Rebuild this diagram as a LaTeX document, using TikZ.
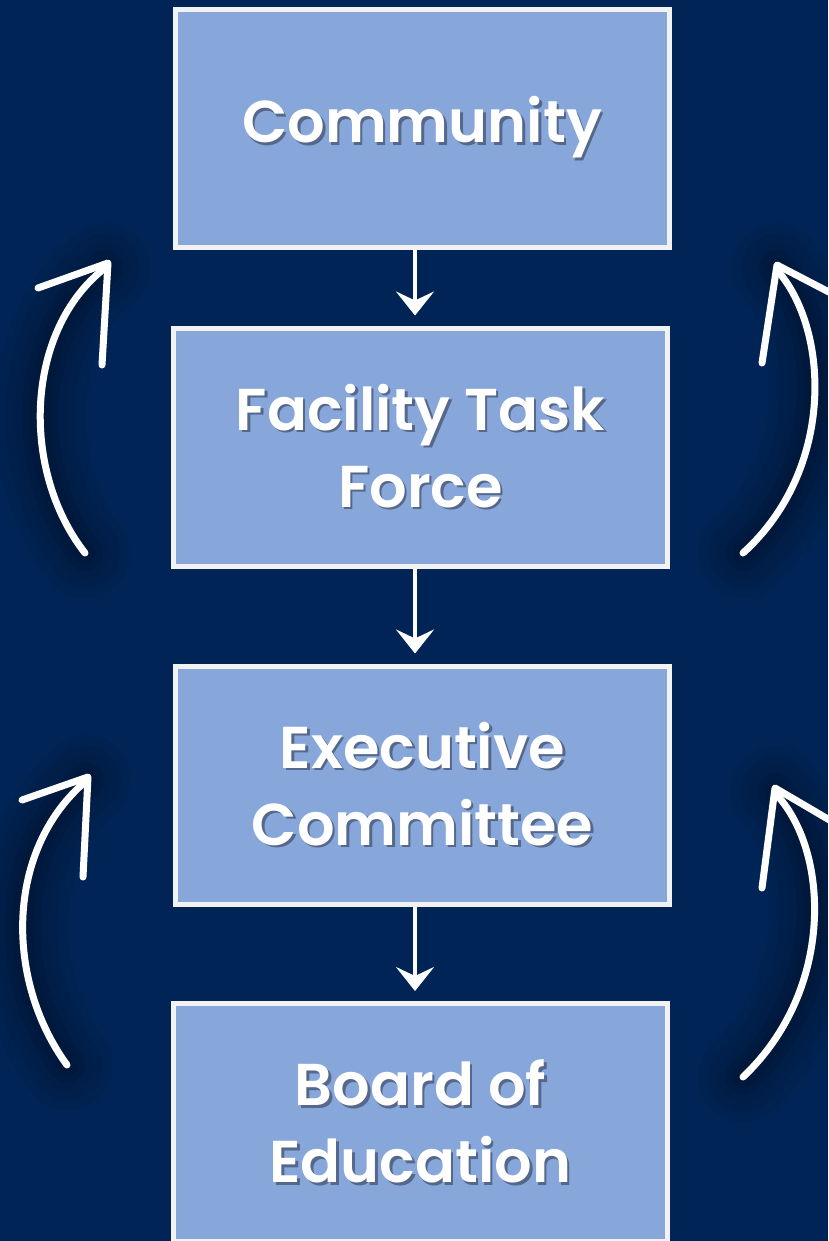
\documentclass[tikz,border=0pt]{standalone}
\usepackage{fontspec}
\setmainfont{Poppins}[BoldFont={* SemiBold}]
\usetikzlibrary{arrows.meta}
\definecolor{bgnavy}{HTML}{012456}
\definecolor{boxfill}{HTML}{87A6DA}
\definecolor{boxline}{HTML}{F2F2F2}
\definecolor{shadowc}{HTML}{55678A}
\newcommand\shtext[1]{\leavevmode\rlap{\kern2.5pt\raisebox{-2.5pt}{\textcolor{shadowc}{#1}}}#1}
\tikzset{
  stagebox/.style={draw=boxline, line width=5pt, fill=boxfill, minimum width=494pt, minimum height=238pt,
    inner sep=0pt, align=center, text=white, font=\fontsize{59}{77}\selectfont\bfseries},
  flowarrow/.style={draw=white, line width=3.5pt, -{Stealth[length=24pt,width=38pt,inset=9pt]}, shorten >=10pt},
  loopline/.style={draw=white, line width=7pt, line cap=round, line join=round},
  halo/.style={draw=black, line cap=round, opacity=#1},
}
\begin{document}
\begin{tikzpicture}[x=1pt,y=-1pt]
\fill[bgnavy] (0,0) rectangle (828,1241);
\useasboundingbox (0,0) rectangle (828,1241);
\clip (0,0) rectangle (828,1241);

% curved return arrows: soft dark halos
\foreach \w/\o in {90/0.05,70/0.05,52/0.06,36/0.07,22/0.08}{
  \draw[halo=\o, line width=\w pt] (85,553) .. controls (20,470) and (25,330) .. (105,268);
  \draw[halo=\o, line width=\w pt] (743,553) .. controls (835,470) and (830,330) .. (777,268);
  \draw[halo=\o, line width=\w pt] (67,1065) .. controls (5,980) and (5,850) .. (86,780);
  \draw[halo=\o, line width=\w pt] (743,1077) .. controls (835,990) and (830,850) .. (775,791);
}

% curved return arrows
\coordinate (la1s) at (85,553);
\coordinate (la1t) at (108,263);
\draw[loopline] (la1s) .. controls (20,470) and (25,330) .. (105,268);
\draw[loopline] (38,288) -- (la1t) -- (102,365);

\coordinate (ra1s) at (743,553);
\coordinate (ra1t) at (777,265);
\draw[loopline] (ra1s) .. controls (835,470) and (830,330) .. (777,270);
\draw[loopline] (850,303) -- (ra1t) -- (762,363);

\coordinate (la2s) at (67,1065);
\coordinate (la2t) at (88,777);
\draw[loopline] (la2s) .. controls (5,980) and (5,850) .. (86,781);
\draw[loopline] (22,800) -- (la2t) -- (83,877);

\coordinate (ra2s) at (743,1077);
\coordinate (ra2t) at (775,788);
\draw[loopline] (ra2s) .. controls (835,990) and (830,850) .. (775,793);
\draw[loopline] (850,832) -- (ra2t) -- (762,888);

% boxes
\node[stagebox] (community) at (422,128.5) {\raisebox{6pt}{\shtext{Community}}};
\node[stagebox] (taskforce) at (420.5,447) {\shtext{Facility Task}\\\shtext{Force}};
\node[stagebox] (executive) at (422.5,785) {\shtext{Executive}\\\shtext{Committee}};
\node[stagebox] (board) at (420.5,1122.5) {\shtext{Board of}\\\shtext{Education}};

% down arrows
\draw[flowarrow] (community.south -| 415,0) -- (taskforce.north -| 415,0);
\draw[flowarrow] (taskforce.south -| 415,0) -- (executive.north -| 415,0);
\draw[flowarrow] (executive.south -| 415,0) -- (board.north -| 415,0);
\end{tikzpicture}
\end{document}
